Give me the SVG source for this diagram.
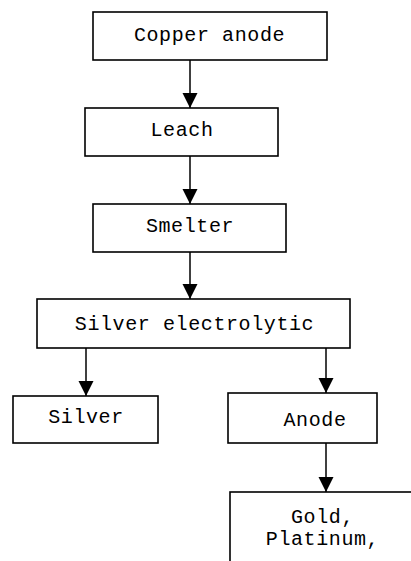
<svg xmlns="http://www.w3.org/2000/svg" width="411" height="561" viewBox="0 0 411 561">
<style>
.box{fill:#fff;stroke:#000;stroke-width:1.6}
.t{font-family:"Liberation Mono","Courier New",monospace;font-size:20px;letter-spacing:0.6px;fill:#000;text-anchor:middle}
.c{stroke:#000;stroke-width:1.5;fill:none;marker-end:url(#ah)}
</style>
<defs>
<marker id="ah" markerUnits="userSpaceOnUse" markerWidth="16" markerHeight="16" refX="15" refY="7.5" orient="auto" viewBox="0 0 16 16">
<path d="M0,0 L15,7.5 L0,15 Z" fill="#000"/>
</marker>
</defs>
<rect width="411" height="561" fill="#fff"/>
<g id="connectors">
<line class="c" x1="190" y1="60" x2="190" y2="108"/>
<line class="c" x1="190" y1="156" x2="190" y2="204"/>
<line class="c" x1="190" y1="252" x2="190" y2="299"/>
<line class="c" x1="86" y1="348" x2="86" y2="396"/>
<line class="c" x1="326" y1="348" x2="326" y2="393"/>
<line class="c" x1="326" y1="443" x2="326" y2="492"/>
</g>
<g id="copper-anode"><rect class="box" x="93" y="12" width="234" height="48"/><text class="t" x="209.5" y="41">Copper anode</text></g>
<g id="leach"><rect class="box" x="85" y="108" width="193" height="48"/><text class="t" x="182" y="136">Leach</text></g>
<g id="smelter"><rect class="box" x="93" y="204" width="193" height="48"/><text class="t" x="190" y="232">Smelter</text></g>
<g id="silver-electrolytic"><rect class="box" x="37" y="299" width="313" height="49"/><text class="t" x="194.5" y="330">Silver electrolytic</text></g>
<g id="silver"><rect class="box" x="13" y="396" width="145" height="47"/><text class="t" x="86" y="423">Silver</text></g>
<g id="anode"><rect class="box" x="228" y="393" width="149" height="50"/><text class="t" x="315" y="426">Anode</text></g>
<g id="gold-platinum"><rect class="box" x="230" y="492" width="200" height="90"/><text class="t" x="322.5" y="523">Gold,</text><text class="t" x="322.5" y="545">Platinum,</text></g>
</svg>
